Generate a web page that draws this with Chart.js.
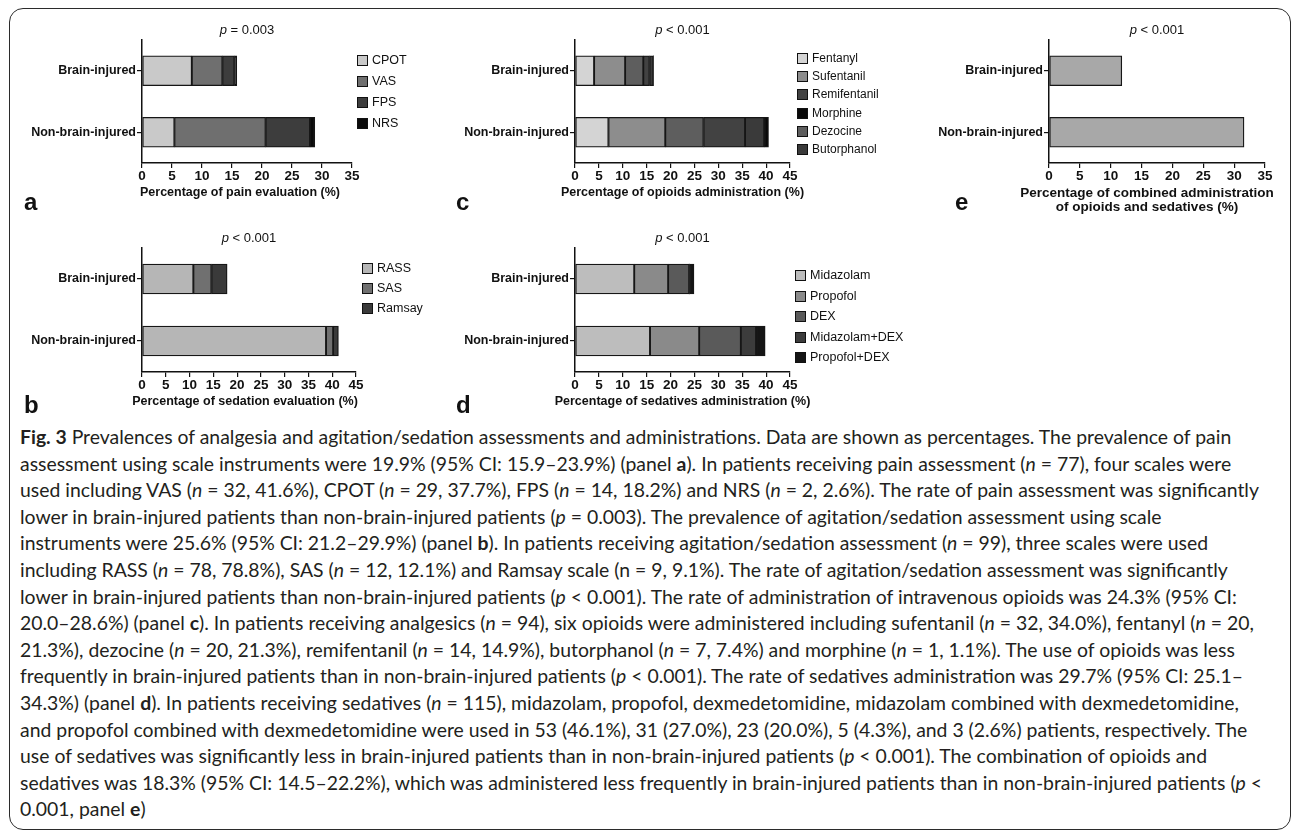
<!DOCTYPE html>
<html>
<head>
<meta charset="utf-8">
<script src="https://cdn.jsdelivr.net/npm/chart.js@4.4.1/dist/chart.umd.min.js"></script>
<style>
  html, body { margin: 0; padding: 0; background: #fff; }
  body { width: 1292px; height: 833px; position: relative; overflow: hidden; font-family: "Liberation Sans", Arial, sans-serif; }
  .frame { position: absolute; left: 9px; top: 8px; width: 1282px; height: 822px; border: 1.5px solid #2b2b2b; border-radius: 14px; box-sizing: border-box; }
  canvas { position: absolute; }
  .tag { position: absolute; font: bold 24px "Liberation Sans", Arial, sans-serif; color: #111; line-height: 24px; }
  .caption { position: absolute; left: 20px; top: 424px; font-family: Lato, sans-serif; font-size: 19.4px; line-height: 26.6px; color: #231f20; }
  .caption div { white-space: nowrap; }
</style>
</head>
<body>
<div class="frame"></div>

<canvas id="chartPain" width="440" height="210" style="left:0;top:10px"></canvas>
<canvas id="chartOpioids" width="490" height="210" style="left:433px;top:10px"></canvas>
<canvas id="chartCombined" width="385" height="210" style="left:907px;top:10px"></canvas>
<canvas id="chartSedation" width="440" height="200" style="left:0;top:215px"></canvas>
<canvas id="chartSedatives" width="490" height="200" style="left:433px;top:215px"></canvas>

<div class="tag" style="left:24px;top:190px">a</div>
<div class="tag" style="left:456px;top:190px">c</div>
<div class="tag" style="left:955px;top:190px">e</div>
<div class="tag" style="left:24px;top:393px">b</div>
<div class="tag" style="left:456px;top:393px">d</div>

<div class="caption">
  <div><b>Fig. 3</b> Prevalences of analgesia and agitation/sedation assessments and administrations. Data are shown as percentages. The prevalence of pain</div>
  <div>assessment using scale instruments were 19.9% (95% CI: 15.9–23.9%) (panel <b>a</b>). In patients receiving pain assessment (<i>n</i> = 77), four scales were</div>
  <div>used including VAS (<i>n</i> = 32, 41.6%), CPOT (<i>n</i> = 29, 37.7%), FPS (<i>n</i> = 14, 18.2%) and NRS (<i>n</i> = 2, 2.6%). The rate of pain assessment was significantly</div>
  <div>lower in brain-injured patients than non-brain-injured patients (<i>p</i> = 0.003). The prevalence of agitation/sedation assessment using scale</div>
  <div>instruments were 25.6% (95% CI: 21.2–29.9%) (panel <b>b</b>). In patients receiving agitation/sedation assessment (<i>n</i> = 99), three scales were used</div>
  <div>including RASS (<i>n</i> = 78, 78.8%), SAS (<i>n</i> = 12, 12.1%) and Ramsay scale (n = 9, 9.1%). The rate of agitation/sedation assessment was significantly</div>
  <div>lower in brain-injured patients than non-brain-injured patients (<i>p</i> &lt; 0.001). The rate of administration of intravenous opioids was 24.3% (95% CI:</div>
  <div>20.0–28.6%) (panel <b>c</b>). In patients receiving analgesics (<i>n</i> = 94), six opioids were administered including sufentanil (<i>n</i> = 32, 34.0%), fentanyl (<i>n</i> = 20,</div>
  <div>21.3%), dezocine (<i>n</i> = 20, 21.3%), remifentanil (<i>n</i> = 14, 14.9%), butorphanol (<i>n</i> = 7, 7.4%) and morphine (<i>n</i> = 1, 1.1%). The use of opioids was less</div>
  <div>frequently in brain-injured patients than in non-brain-injured patients (<i>p</i> &lt; 0.001). The rate of sedatives administration was 29.7% (95% CI: 25.1–</div>
  <div>34.3%) (panel <b>d</b>). In patients receiving sedatives (<i>n</i> = 115), midazolam, propofol, dexmedetomidine, midazolam combined with dexmedetomidine,</div>
  <div>and propofol combined with dexmedetomidine were used in 53 (46.1%), 31 (27.0%), 23 (20.0%), 5 (4.3%), and 3 (2.6%) patients, respectively. The</div>
  <div>use of sedatives was significantly less in brain-injured patients than in non-brain-injured patients (<i>p</i> &lt; 0.001). The combination of opioids and</div>
  <div>sedatives was 18.3% (95% CI: 14.5–22.2%), which was administered less frequently in brain-injured patients than in non-brain-injured patients (<i>p</i> &lt;</div>
  <div>0.001, panel <b>e</b>)</div>
</div>

<script>
// ─── DATA ─────────────────────
const groups = ["Brain-injured", "Non-brain-injured"];

// a: pain evaluation scales
const painScales = ["CPOT", "VAS", "FPS", "NRS"];
const painBrain = [8.3, 5.1, 2.0, 0.4];
const painNonBrain = [5.4, 15.2, 7.4, 0.8];

// b: sedation evaluation scales
const sedationScales = ["RASS", "SAS", "Ramsay"];
const sedationBrain = [10.8, 3.8, 3.3];
const sedationNonBrain = [38.7, 1.5, 1.1];

// c: opioids (legend order / stacking order differ)
const opioidLegend = ["Fentanyl", "Sufentanil", "Remifentanil", "Morphine", "Dezocine", "Butorphanol"];
const opioidStack = ["Fentanyl", "Sufentanil", "Dezocine", "Remifentanil", "Butorphanol", "Morphine"];
const opioidBrain = [4.0, 6.5, 3.8, 1.3, 0.8, 0];
const opioidNonBrain = [7.0, 11.9, 8.0, 8.7, 4.0, 0.9];

// d: sedatives
const sedatives = ["Midazolam", "Propofol", "DEX", "Midazolam+DEX", "Propofol+DEX"];
const sedativeBrain = [12.4, 7.1, 4.4, 0, 1.0];
const sedativeNonBrain = [15.7, 10.3, 8.7, 3.2, 1.9];

// e: combined opioids + sedatives
const combinedRate = [11.8, 31.6];

// axis maxima (a, b, c, d, e) and p-values
const axisMax = [35, 45, 45, 45, 35];
const pValues = ["= 0.003", "< 0.001", "< 0.001", "< 0.001", "< 0.001"];

// ─── STYLE ─────────────────────
const ink = "#111";
const FONT = '"Liberation Sans", Arial, sans-serif';
const painColors = ["#c9c9c9", "#6f6f6f", "#3d3d3d", "#0b0b0b"];
const sedationColors = ["#b6b6b6", "#707070", "#3a3a3a"];
const opioidColors = {
  Fentanyl: "#d4d4d4", Sufentanil: "#8d8d8d", Remifentanil: "#424242",
  Morphine: "#090909", Dezocine: "#5e5e5e", Butorphanol: "#3a3a3a"
};
const sedativeColors = ["#bdbdbd", "#8a8a8a", "#5a5a5a", "#3c3c3c", "#151515"];

Chart.defaults.font.family = FONT;
Chart.defaults.color = ink;
Chart.defaults.animation = false;

// legend drawn to the right of the plot, GraphPad style
const sideLegend = {
  id: "sideLegend",
  afterDraw(chart, args, opts) {
    if (!opts || !opts.order) return;
    const { ctx } = chart;
    ctx.save();
    ctx.font = opts.size + "px " + FONT;
    ctx.textBaseline = "middle";
    opts.order.forEach((name, i) => {
      const ds = chart.data.datasets.find((d) => d.label === name);
      const y = Math.round(opts.y + i * opts.step);
      ctx.fillStyle = ds.backgroundColor;
      ctx.fillRect(opts.x, y - 5, 10, 10);
      ctx.strokeStyle = ink;
      ctx.lineWidth = 1;
      ctx.strokeRect(opts.x + 0.5, y - 4.5, 10, 10);
      ctx.fillStyle = ink;
      ctx.fillText(name, opts.x + 15, y + 0.5);
    });
    ctx.restore();
  }
};

// "p = ..." above the plot (italic p) and the x-axis caption below it.
// The built-in scale title squeezes text to the axis width, so draw it here.
const panelText = {
  id: "panelText",
  afterDraw(chart, args, opts) {
    const { ctx, chartArea } = chart;
    const cx = (chartArea.left + chartArea.right) / 2;
    ctx.save();
    ctx.textBaseline = "middle";
    ctx.fillStyle = ink;

    const italic = "italic 13px " + FONT;
    const plain = "13px " + FONT;
    ctx.font = italic;
    const wp = ctx.measureText("p").width;
    ctx.font = plain;
    const rest = " " + opts.p;
    const wr = ctx.measureText(rest).width;
    const x = cx - (wp + wr) / 2;
    const y = chartArea.top - 10;
    ctx.font = italic;
    ctx.fillText("p", x, y);
    ctx.font = plain;
    ctx.fillText(rest, x + wp, y);

    ctx.font = "bold " + opts.titleSize + "px " + FONT;
    ctx.textAlign = "center";
    opts.xTitle.forEach((line, i) => {
      ctx.fillText(line, cx + opts.shift, chartArea.bottom + 30 + i * 14);
    });
    ctx.restore();
  }
};

function barSet(label, data, color) {
  return {
    label,
    data,
    backgroundColor: color,
    borderColor: "#161616",
    borderWidth: (c) => (c.raw ? 1.3 : 0),
    borderSkipped: false,
    barThickness: 30
  };
}

function panelOptions(cfg) {
  return {
    indexAxis: "y",
    responsive: false,
    devicePixelRatio: 1,
    layout: { padding: { left: 0, top: cfg.top, right: cfg.right, bottom: 0 } },
    plugins: {
      legend: { display: false },
      tooltip: { enabled: false },
      panelText: { p: cfg.p, xTitle: cfg.xTitle, titleSize: cfg.titleSize || 12.5, shift: cfg.shift || 0 },
      sideLegend: cfg.legend || {}
    },
    scales: {
      x: {
        stacked: true,
        min: 0,
        max: cfg.max,
        ticks: { stepSize: 5, padding: 0, font: { size: 13.5, weight: "bold" }, color: ink },
        grid: { drawOnChartArea: false, drawTicks: true, tickLength: 5, color: ink, lineWidth: 1.2 },
        border: { color: ink, width: 1.5 },
        afterFit: (s) => { s.height = cfg.xHeight; }
      },
      y: {
        stacked: true,
        ticks: { padding: 1, font: { size: 12.5, weight: "bold" }, color: ink },
        grid: { offset: false, drawOnChartArea: false, drawTicks: true, tickLength: 5, color: ink, lineWidth: 1.2 },
        border: { color: ink, width: 1.5 },
        afterFit: (s) => { s.width = 142; }
      }
    }
  };
}

// a
new Chart(document.getElementById("chartPain"), {
  type: "bar",
  data: {
    labels: groups,
    datasets: painScales.map((s, i) => barSet(s, [painBrain[i], painNonBrain[i]], painColors[i]))
  },
  plugins: [sideLegend, panelText],
  options: panelOptions({
    top: 30, right: 88, max: axisMax[0], p: pValues[0], xHeight: 57, shift: -7,
    xTitle: ["Percentage of pain evaluation (%)"],
    legend: { order: painScales, x: 357, y: 50, step: 21, size: 12.5 }
  })
});

// b
new Chart(document.getElementById("chartSedation"), {
  type: "bar",
  data: {
    labels: groups,
    datasets: sedationScales.map((s, i) => barSet(s, [sedationBrain[i], sedationNonBrain[i]], sedationColors[i]))
  },
  plugins: [sideLegend, panelText],
  options: panelOptions({
    top: 33, right: 84, max: axisMax[1], p: pValues[1], xHeight: 43, shift: -4,
    xTitle: ["Percentage of sedation evaluation (%)"],
    legend: { order: sedationScales, x: 362, y: 53, step: 20, size: 12.5 }
  })
});

// c
new Chart(document.getElementById("chartOpioids"), {
  type: "bar",
  data: {
    labels: groups,
    datasets: opioidStack.map((s, i) => barSet(s, [opioidBrain[i], opioidNonBrain[i]], opioidColors[s]))
  },
  plugins: [sideLegend, panelText],
  options: panelOptions({
    top: 30, right: 133, max: axisMax[2], p: pValues[2], xHeight: 57,
    xTitle: ["Percentage of opioids administration (%)"],
    legend: { order: opioidLegend, x: 364, y: 48, step: 18.2, size: 12 }
  })
});

// d
new Chart(document.getElementById("chartSedatives"), {
  type: "bar",
  data: {
    labels: groups,
    datasets: sedatives.map((s, i) => barSet(s, [sedativeBrain[i], sedativeNonBrain[i]], sedativeColors[i]))
  },
  plugins: [sideLegend, panelText],
  options: panelOptions({
    top: 33, right: 133, max: axisMax[3], p: pValues[3], xHeight: 43,
    xTitle: ["Percentage of sedatives administration (%)"],
    legend: { order: sedatives, x: 362, y: 60, step: 20.5, size: 12.5 }
  })
});

// e
new Chart(document.getElementById("chartCombined"), {
  type: "bar",
  data: {
    labels: groups,
    datasets: [barSet("Combined", combinedRate, "#a8a8a8")]
  },
  plugins: [sideLegend, panelText],
  options: panelOptions({
    top: 30, right: 27, max: axisMax[4], p: pValues[4], xHeight: 57, titleSize: 13.5, shift: -10,
    xTitle: ["Percentage of combined administration", "of opioids and sedatives (%)"]
  })
});
</script>
</body>
</html>
